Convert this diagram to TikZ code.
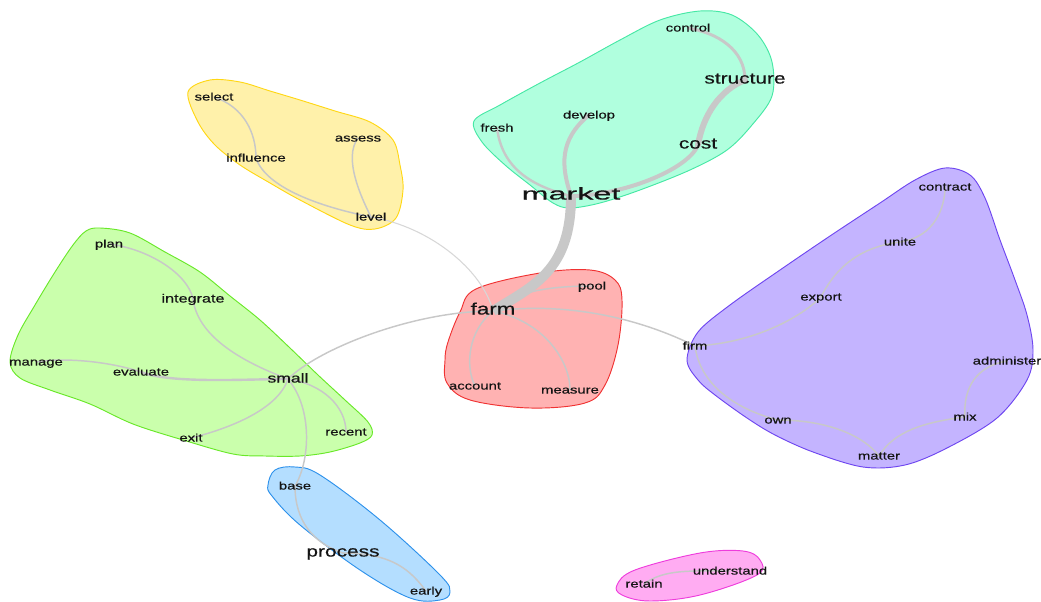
\documentclass[tikz,border=0pt]{standalone}
\usepackage{fontspec}
\setmainfont{Liberation Sans}
\newfontfamily\fw[FakeStretch=1.35,FakeBold=0.4]{Liberation Sans}
\newfontfamily\fww[FakeStretch=1.9,FakeBold=0.6]{Liberation Sans}
\pgfdeclarelayer{hulls}
\pgfdeclarelayer{edges}
\pgfsetlayers{hulls,edges,main}
\definecolor{txt}{RGB}{20,20,20}
\definecolor{edg}{RGB}{200,200,200}
\definecolor{edgl}{RGB}{215,215,215}
\definecolor{tealF}{RGB}{176,255,222}\definecolor{tealD}{RGB}{70,232,165}
\definecolor{yelF}{RGB}{255,241,170}\definecolor{yelD}{RGB}{255,215,20}
\definecolor{grnF}{RGB}{202,255,172}\definecolor{grnD}{RGB}{105,232,40}
\definecolor{purF}{RGB}{196,180,255}\definecolor{purD}{RGB}{110,70,240}
\definecolor{redF}{RGB}{255,178,178}\definecolor{redD}{RGB}{240,50,50}
\definecolor{bluF}{RGB}{180,222,255}\definecolor{bluD}{RGB}{45,145,235}
\definecolor{pnkF}{RGB}{255,172,242}\definecolor{pnkD}{RGB}{238,60,220}
\begin{document}
\begin{tikzpicture}[x=0.75pt,y=-0.75pt,
  wd/.style={inner sep=0pt,anchor=mid,text=txt,font=\fw\fontsize{8.25}{9}\selectfont},
  wdm/.style={wd,font=\fw\fontsize{9}{10}\selectfont},
  wds/.style={wd,font=\fw\fontsize{9.75}{11}\selectfont},
  wdl/.style={wd,font=\fw\fontsize{11.6}{13}\selectfont},
  wdf/.style={wd,font=\fw\fontsize{12.4}{14}\selectfont},
  wdx/.style={wd,font=\fww\fontsize{12.75}{14}\selectfont},
  hull/.style={line width=0.7pt},
  lk/.style={draw=edg,line width=1.1pt,line cap=round},
  lkl/.style={draw=edgl,line width=0.8pt,line cap=round}]
\useasboundingbox (0,0) rectangle (1041,602);
% nodes
\node[wd] (control) at (688,28) {control};
\node[wdl] (structure) at (745,80) {structure};
\node[wd] (develop) at (589,115) {develop};
\node[wd] (fresh) at (497,128) {fresh};
\node[wdl] (cost) at (698,145) {cost};
\node[wdx] (market) at (571,196) {market};
\node[wd] (select) at (214,97) {select};
\node[wd] (assess) at (358,138) {assess};
\node[wd] (influence) at (256,158) {influence};
\node[wd] (level) at (371,217) {level};
\node[wd] (plan) at (109,244) {plan};
\node[wdm] (integrate) at (193,299) {integrate};
\node[wd] (manage) at (36,362) {manage};
\node[wd] (evaluate) at (141,372) {evaluate};
\node[wds] (small) at (288,379) {small};
\node[wd] (exit) at (191,438) {exit};
\node[wd] (recent) at (346,432) {recent};
\node[wdf] (farm) at (493,311) {farm};
\node[wd] (pool) at (592,286) {pool};
\node[wd] (account) at (475,386) {account};
\node[wd] (measure) at (570,390) {measure};
\node[wd] (firm) at (695,346) {firm};
\node[wd] (contract) at (945,187) {contract};
\node[wd] (unite) at (900,242) {unite};
\node[wd] (export) at (821,297) {export};
\node[wd] (administer) at (1007,361) {administer};
\node[wd] (own) at (778,420) {own};
\node[wd] (mix) at (965,417) {mix};
\node[wd] (matter) at (879,456) {matter};
\node[wd] (base) at (295,486) {base};
\node[wdl] (process) at (343,553) {process};
\node[wd] (early) at (426,591) {early};
\node[wd] (retain) at (644,584) {retain};
\node[wd] (understand) at (730,571) {understand};
% hulls
\begin{pgfonlayer}{hulls}
\draw[hull,draw=tealD,fill=tealF] plot[smooth cycle,tension=0.55] coordinates {(474,121) (500,105) (540,83) (580,62) (620,40) (660,20) (700,11) (732,15) (758,35) (772,62) (772,96) (752,125) (727,150) (690,170) (640,190) (600,203) (570,208) (553,203) (530,185) (505,165) (482,142)};
\draw[hull,draw=yelD,fill=yelF] plot[smooth cycle,tension=0.55] coordinates {(188,92) (210,80) (240,82) (270,91) (300,100) (335,111) (370,122) (393,140) (400,165) (403,190) (396,218) (375,229) (350,225) (300,200) (270,183) (240,165) (215,145) (198,122)};
\draw[hull,draw=grnD,fill=grnF] plot[smooth cycle,tension=0.55] coordinates {(100,228) (130,233) (165,252) (200,272) (230,296) (260,320) (290,348) (318,375) (345,400) (368,422) (372,435) (360,443) (330,452) (300,456) (265,456) (233,454) (183,440) (133,424) (90,404) (50,390) (20,378) (10,362) (18,335) (35,305) (55,272) (73,245) (86,231)};
\draw[hull,draw=purD,fill=purF] plot[smooth cycle,tension=0.55] coordinates {(687,360) (698,332) (730,305) (780,270) (830,236) (880,203) (915,180) (945,168) (970,175) (985,198) (1000,240) (1015,280) (1027,315) (1033,350) (1027,380) (997,418) (947,448) (905,465) (863,467) (813,452) (775,435) (747,418) (715,395) (698,380)};
\draw[hull,draw=redD,fill=redF] plot[smooth cycle,tension=0.6] coordinates {(448,342) (460,312) (476,289) (540,273) (590,270) (615,280) (622,300) (618,345) (605,385) (585,403) (530,408) (470,400) (447,383) (445,360)};
\draw[hull,draw=bluD,fill=bluF] plot[smooth cycle,tension=0.6] coordinates {(268,485) (275,470) (295,467) (320,475) (380,520) (440,575) (450,592) (440,600) (410,598) (360,570) (300,525) (272,496)};
\draw[hull,draw=pnkD,fill=pnkF] plot[smooth cycle,tension=0.6] coordinates {(617,585) (635,570) (700,553) (743,551) (760,560) (757,575) (700,595) (650,601) (622,595)};
\end{pgfonlayer}
% edges
\begin{pgfonlayer}{edges}
\draw[lk,line width=2.2pt] (control.mid) .. controls +(30,5) and +(0,-30) .. (structure.mid);
\draw[lk,line width=4.5pt] (structure.mid) .. controls +(-25,10) and +(5,-30) .. (cost.mid);
\draw[lk,line width=3pt] (cost.mid) .. controls +(-10,25) and +(50,0) .. (market.mid);
\draw[lk,line width=3pt] (develop.mid) .. controls +(-30,25) and +(-10,-30) .. (market.mid);
\draw[lk,line width=1.8pt] (fresh.mid) .. controls +(5,40) and +(-40,-10) .. (market.mid);
\draw[lk,line width=7.5pt,line cap=butt] (market.mid) .. controls +(0,75) and +(40,-25) .. (farm.mid);
\draw[lk] (select.mid) .. controls +(30,10) and +(0,-25) .. (influence.mid);
\draw[lk] (influence.mid) .. controls +(10,30) and +(-50,-10) .. (level.mid);
\draw[lk] (assess.mid) .. controls +(-15,20) and +(-10,-20) .. (level.mid);
\draw[lkl] (level.mid) .. controls +(60,10) and +(-10,-40) .. (farm.mid);
\draw[lk] (plan.mid) .. controls +(40,5) and +(-5,-25) .. (integrate.mid);
\draw[lk] (integrate.mid) .. controls +(5,40) and +(-40,-15) .. (small.mid);
\draw[lk] (manage.mid) .. controls +(30,-5) and +(-30,-10) .. (evaluate.mid);
\draw[lk,line width=1.8pt] (evaluate.mid) .. controls +(30,12) and +(-40,0) .. (small.mid);
\draw[lk] (small.mid) .. controls +(-10,30) and +(40,-10) .. (exit.mid);
\draw[lk] (small.mid) .. controls +(35,5) and +(0,-25) .. (recent.mid);
\draw[lk] (small.mid) .. controls +(25,30) and +(15,-25) .. (base.mid);
\draw[lk] (small.mid) .. controls +(30,-30) and +(-80,0) .. (farm.mid);
\draw[lk] (farm.mid) .. controls +(20,-20) and +(-40,0) .. (pool.mid);
\draw[lk] (farm.mid) .. controls +(-25,20) and +(-10,-20) .. (account.mid);
\draw[lk] (farm.mid) .. controls +(50,10) and +(0,-30) .. (measure.mid);
\draw[lk] (farm.mid) .. controls +(80,-10) and +(-50,-25) .. (firm.mid);
\draw[lk] (firm.mid) .. controls +(60,-3) and +(-20,20) .. (export.mid);
\draw[lk] (export.mid) .. controls +(15,-30) and +(-40,5) .. (unite.mid);
\draw[lk] (unite.mid) .. controls +(35,-5) and +(0,20) .. (contract.mid);
\draw[lk] (firm.mid) .. controls +(5,40) and +(-40,-10) .. (own.mid);
\draw[lk] (own.mid) .. controls +(50,0) and +(-15,-20) .. (matter.mid);
\draw[lk] (matter.mid) .. controls +(15,-25) and +(-40,5) .. (mix.mid);
\draw[lk] (mix.mid) .. controls +(-2,-30) and +(-30,5) .. (administer.mid);
\draw[lk] (retain.mid) .. controls +(20,-15) and +(-40,0) .. (understand.mid);
\draw[lk] (base.mid) .. controls +(0,35) and +(-30,-10) .. (process.mid);
\draw[lk] (process.mid) .. controls +(50,0) and +(-15,-20) .. (early.mid);
\end{pgfonlayer}
\end{tikzpicture}
\end{document}
